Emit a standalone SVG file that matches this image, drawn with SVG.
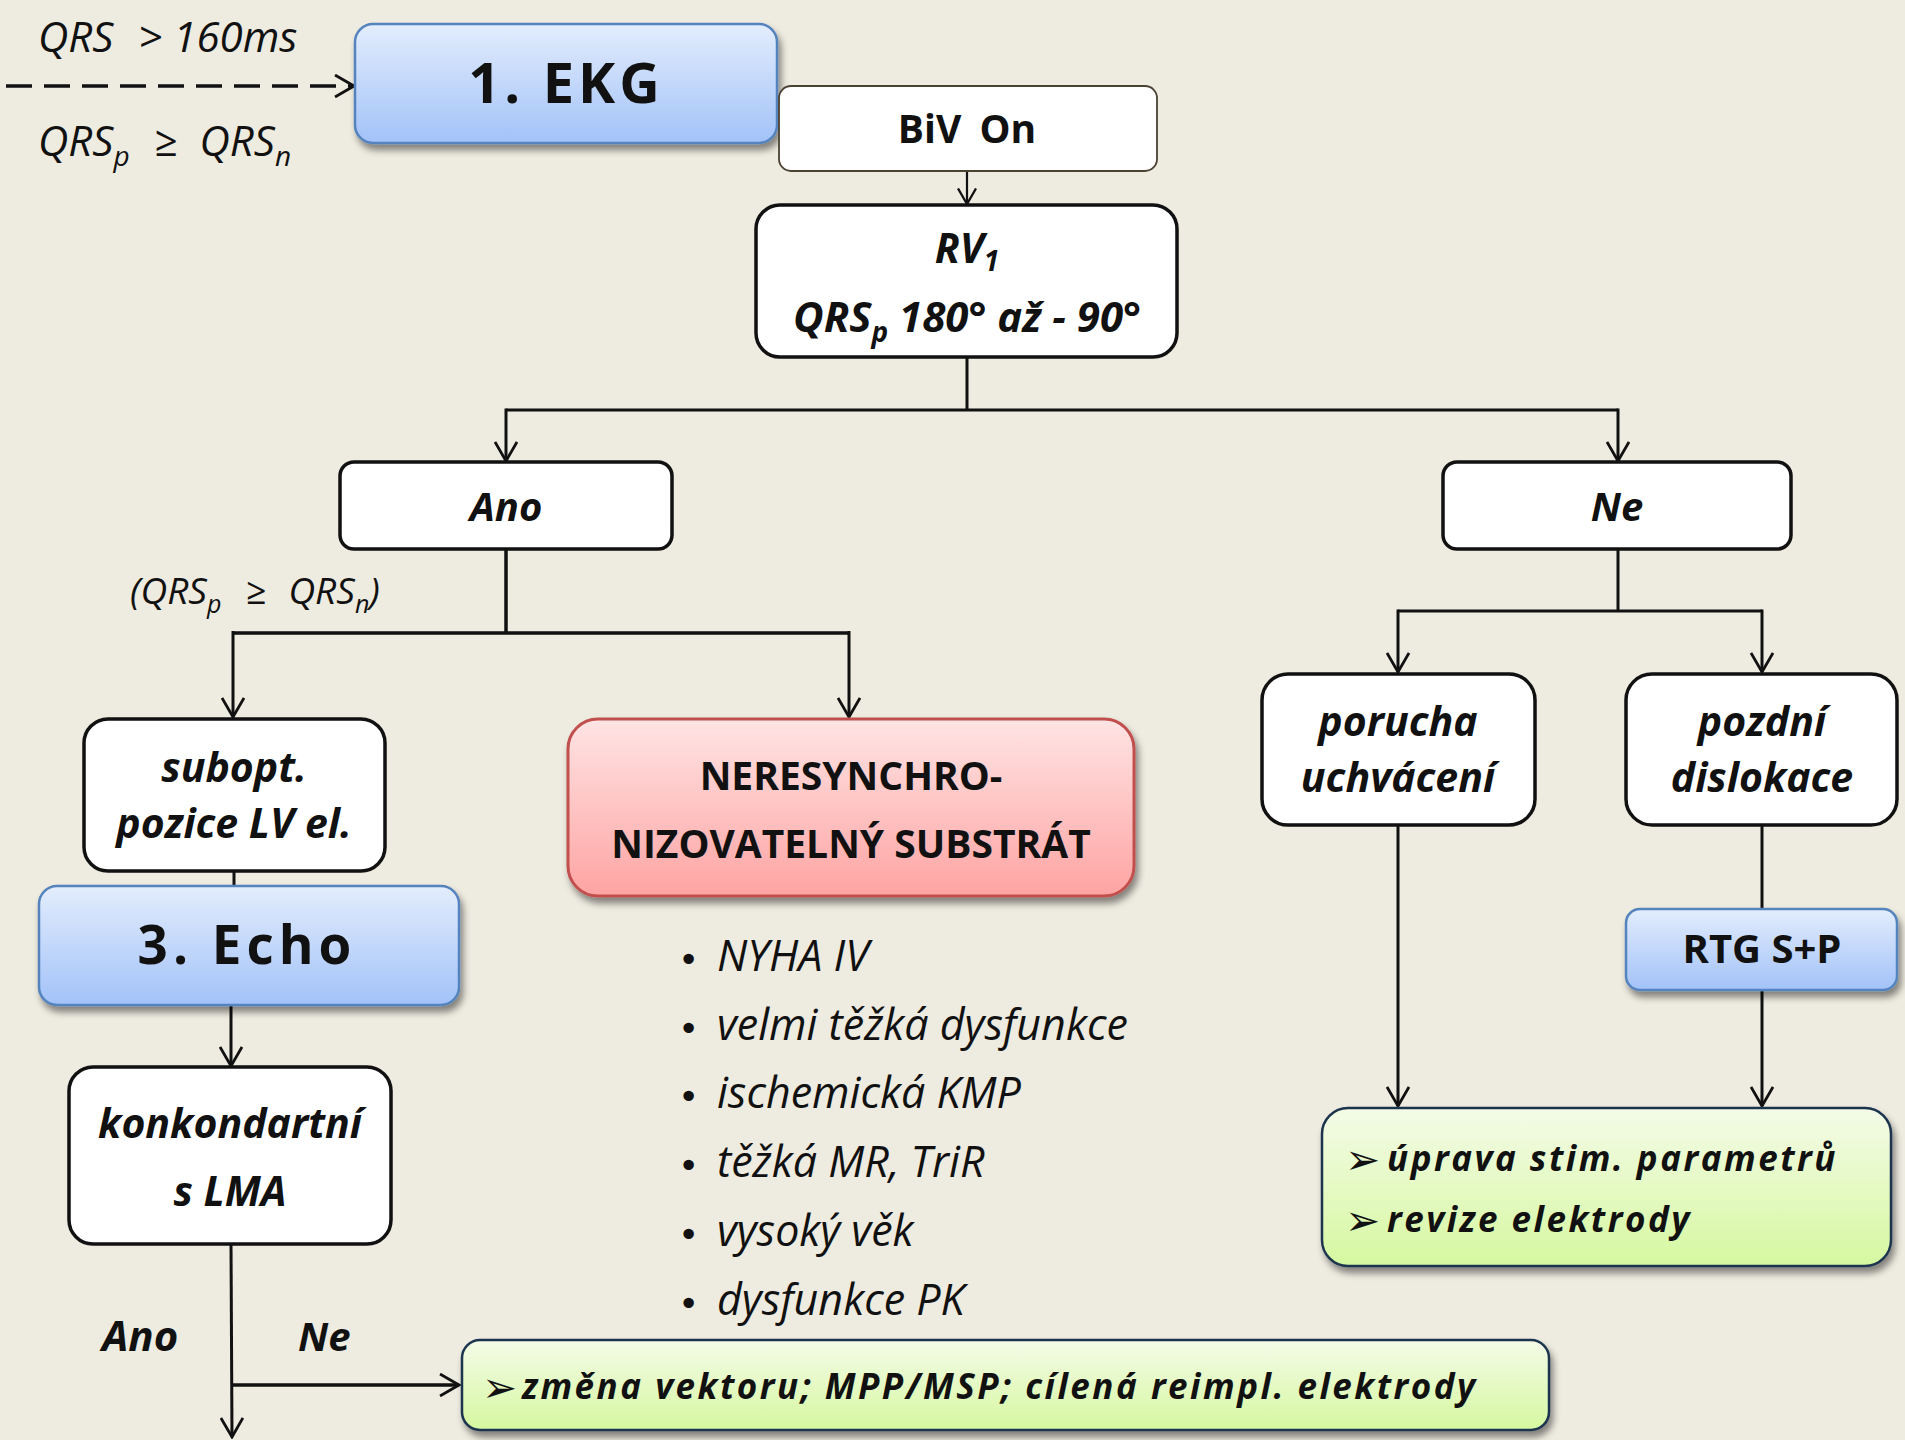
<svg xmlns="http://www.w3.org/2000/svg" width="1905" height="1440" viewBox="0 0 1905 1440">
<style>
.t{font-family:"Open Sans","Noto Sans","DejaVu Sans",sans-serif;fill:#111;}
.bi{font-weight:bold;font-style:italic;}
.b{font-weight:bold;}
.i{font-style:italic;}
.wb{fill:#fff;stroke:#111;stroke-width:3.5;}
.blue{fill:url(#gBlue);stroke:#5583BE;stroke-width:2.5;}
.red{fill:url(#gRed);stroke:#C0504D;stroke-width:3;}
.green{fill:url(#gGreen);stroke:#1F3550;stroke-width:2.5;}
.c{fill:none;stroke:#111;stroke-width:3;}
.bul{font-family:"DejaVu Sans",sans-serif;fill:#111;}
</style>
<defs>
<linearGradient id="gBlue" x1="0" y1="0" x2="0" y2="1"><stop offset="0" stop-color="#E3EDFD"/><stop offset="1" stop-color="#A2C2F8"/></linearGradient>
<linearGradient id="gRed" x1="0" y1="0" x2="0" y2="1"><stop offset="0" stop-color="#FFE4E4"/><stop offset="1" stop-color="#FEA4A3"/></linearGradient>
<linearGradient id="gGreen" x1="0" y1="0" x2="0" y2="1"><stop offset="0" stop-color="#F4FBE8"/><stop offset="1" stop-color="#D6F8A0"/></linearGradient>
<filter id="sh" x="-10%" y="-20%" width="125%" height="150%"><feDropShadow dx="3" dy="6" stdDeviation="3.5" flood-color="#000" flood-opacity="0.45"/></filter>
<marker id="ah" viewBox="0 0 22 24" refX="20" refY="12" markerWidth="22" markerHeight="24" markerUnits="userSpaceOnUse" orient="auto"><path d="M1,1 L20,12 L1,23" fill="none" stroke="#111" stroke-width="2.8"/></marker>
<marker id="ahs" viewBox="0 0 22 24" refX="20" refY="12" markerWidth="18" markerHeight="20" markerUnits="userSpaceOnUse" orient="auto"><path d="M1,1 L20,12 L1,23" fill="none" stroke="#111" stroke-width="2.8"/></marker>
</defs>
<rect x="0" y="0" width="1905" height="1440" fill="#EEEBE0"/>

<g id="labels">
<text class="t i" x="38" y="52" font-size="42">QRS <tspan dx="14">&gt; 160ms</tspan></text>
<text class="t i" x="38" y="156" font-size="42">QRS<tspan font-size="28" dy="10">p</tspan><tspan dy="-10" dx="24">≥</tspan><tspan dx="22">QRS</tspan><tspan font-size="28" dy="10">n</tspan></text>
<text class="t i" x="130" y="604" font-size="37">(QRS<tspan font-size="25" dy="9">p</tspan><tspan dy="-9" dx="24">≥</tspan><tspan dx="22">QRS</tspan><tspan font-size="25" dy="9">n</tspan><tspan dy="-9">)</tspan></text>
<text class="t bi" x="102" y="1351" font-size="42">Ano</text>
<text class="t bi" x="298" y="1351" font-size="40">Ne</text>
</g>

<g id="connectors">
<line x1="6" y1="86" x2="354" y2="86" stroke="#111" stroke-width="3.5" stroke-dasharray="26,12" marker-end="url(#ah)"/>
<line x1="967" y1="171" x2="967" y2="204" stroke="#111" stroke-width="2.2" marker-end="url(#ahs)"/>
<path class="c" d="M967,357 V410 M506,410 H1618"/>
<line class="c" x1="506" y1="408.5" x2="506" y2="461" marker-end="url(#ah)"/>
<line class="c" x1="1618" y1="408.5" x2="1618" y2="461" marker-end="url(#ah)"/>
<path class="c" d="M506,549 V633 M233,633 H849" style="stroke-width:3.5"/>
<line class="c" x1="233" y1="631" x2="233" y2="717" marker-end="url(#ah)"/>
<line class="c" x1="849" y1="631" x2="849" y2="717" marker-end="url(#ah)"/>
<line class="c" x1="234" y1="871" x2="234" y2="886"/>
<line class="c" x1="231" y1="1006" x2="231" y2="1066" stroke-width="2.5" marker-end="url(#ah)"/>
<line class="c" x1="231" y1="1244" x2="232" y2="1437" marker-end="url(#ah)"/>
<line class="c" x1="231" y1="1385" x2="459" y2="1385" style="stroke-width:3.5" marker-end="url(#ah)"/>
<path class="c" d="M1618,549 V611 M1398,611 H1762"/>
<line class="c" x1="1398" y1="609.5" x2="1398" y2="672" marker-end="url(#ah)"/>
<line class="c" x1="1762" y1="609.5" x2="1762" y2="672" marker-end="url(#ah)"/>
<line class="c" x1="1398" y1="825" x2="1398" y2="1106" marker-end="url(#ah)"/>
<line class="c" x1="1762" y1="825" x2="1762" y2="909"/>
<line class="c" x1="1762" y1="990" x2="1762" y2="1106" marker-end="url(#ah)"/>
</g>

<g id="ekg">
<rect class="blue" x="355" y="24" width="422" height="119" rx="18" filter="url(#sh)"/>
<text class="t b" x="566" y="103" font-size="56" text-anchor="middle" letter-spacing="4" fill="#1E1C10">1. EKG</text>
</g>

<g id="biv">
<rect x="779" y="86" width="378" height="85" rx="12" fill="#fff" stroke="#4A4232" stroke-width="1.8"/>
<text class="t b" x="967" y="143" font-size="39" text-anchor="middle" word-spacing="8">BiV On</text>
</g>

<g id="rv1">
<rect class="wb" x="756" y="205" width="421" height="152" rx="24"/>
<text class="t bi" x="967" y="263" font-size="41" text-anchor="middle">RV<tspan font-size="28" dy="8">1</tspan></text>
<text class="t bi" x="967" y="332" font-size="42" text-anchor="middle">QRS<tspan font-size="28" dy="10">p</tspan><tspan dy="-10"> 180° až - 90°</tspan></text>
</g>

<g id="ano">
<rect class="wb" x="340" y="462" width="332" height="87" rx="14"/>
<text class="t bi" x="506" y="521" font-size="40" text-anchor="middle">Ano</text>
</g>

<g id="ne">
<rect class="wb" x="1443" y="462" width="348" height="87" rx="14"/>
<text class="t bi" x="1617" y="521" font-size="40" text-anchor="middle">Ne</text>
</g>

<g id="subopt">
<rect class="wb" x="84" y="719" width="301" height="152" rx="24"/>
<text class="t bi" x="234" y="782" font-size="41" text-anchor="middle">subopt.</text>
<text class="t bi" x="234" y="838" font-size="41" text-anchor="middle">pozice LV el.</text>
</g>

<g id="neresynchro">
<rect class="red" x="568" y="719" width="566" height="177" rx="30" filter="url(#sh)"/>
<text class="t b" x="851" y="790" font-size="39" text-anchor="middle">NERESYNCHRO-</text>
<text class="t b" x="851" y="858" font-size="39" text-anchor="middle">NIZOVATELNÝ SUBSTRÁT</text>
</g>

<g id="list">
<text class="bul" x="678" y="972" font-size="36">•</text>
<text class="t i" x="717" y="971" font-size="43">NYHA IV</text>
<text class="bul" x="678" y="1041" font-size="36">•</text>
<text class="t i" x="717" y="1040" font-size="43">velmi těžká dysfunkce</text>
<text class="bul" x="678" y="1109" font-size="36">•</text>
<text class="t i" x="717" y="1108" font-size="43">ischemická KMP</text>
<text class="bul" x="678" y="1178" font-size="36">•</text>
<text class="t i" x="717" y="1177" font-size="43">těžká MR, TriR</text>
<text class="bul" x="678" y="1247" font-size="36">•</text>
<text class="t i" x="717" y="1246" font-size="43">vysoký věk</text>
<text class="bul" x="678" y="1316" font-size="36">•</text>
<text class="t i" x="717" y="1315" font-size="43">dysfunkce PK</text>
</g>

<g id="echo">
<rect class="blue" x="39" y="886" width="420" height="119" rx="18" filter="url(#sh)"/>
<text class="t b" x="247" y="964" font-size="53" text-anchor="middle" letter-spacing="5" fill="#1E1C10">3. Echo</text>
</g>

<g id="konkordantni">
<rect class="wb" x="69" y="1067" width="322" height="177" rx="24"/>
<text class="t bi" x="230" y="1138" font-size="41" text-anchor="middle">konkondartní</text>
<text class="t bi" x="230" y="1206" font-size="41" text-anchor="middle">s LMA</text>
</g>

<g id="zmena">
<rect class="green" x="462" y="1340" width="1087" height="90" rx="18" filter="url(#sh)"/>
<text class="bul" x="482" y="1402" font-size="42">➢</text>
<text class="t bi" x="522" y="1399" font-size="35" letter-spacing="2.5">změna vektoru; MPP/MSP; cílená reimpl. elektrody</text>
</g>

<g id="porucha">
<rect class="wb" x="1262" y="674" width="273" height="151" rx="26"/>
<text class="t bi" x="1398" y="736" font-size="41" text-anchor="middle">porucha</text>
<text class="t bi" x="1398" y="792" font-size="41" text-anchor="middle">uchvácení</text>
</g>

<g id="pozdni">
<rect class="wb" x="1626" y="674" width="271" height="151" rx="26"/>
<text class="t bi" x="1762" y="736" font-size="41" text-anchor="middle">pozdní</text>
<text class="t bi" x="1762" y="792" font-size="41" text-anchor="middle">dislokace</text>
</g>

<g id="rtg">
<rect class="blue" x="1626" y="909" width="271" height="81" rx="14" filter="url(#sh)"/>
<text class="t b" x="1762" y="963" font-size="40" text-anchor="middle" fill="#1E1C10">RTG S+P</text>
</g>

<g id="uprava">
<rect class="green" x="1322" y="1108" width="569" height="158" rx="26" filter="url(#sh)"/>
<text class="bul" x="1345" y="1174" font-size="42">➢</text>
<text class="t bi" x="1387" y="1171" font-size="35" letter-spacing="2.5">úprava stim. parametrů</text>
<text class="bul" x="1345" y="1235" font-size="42">➢</text>
<text class="t bi" x="1387" y="1232" font-size="35" letter-spacing="2.5">revize elektrody</text>
</g>
</svg>
